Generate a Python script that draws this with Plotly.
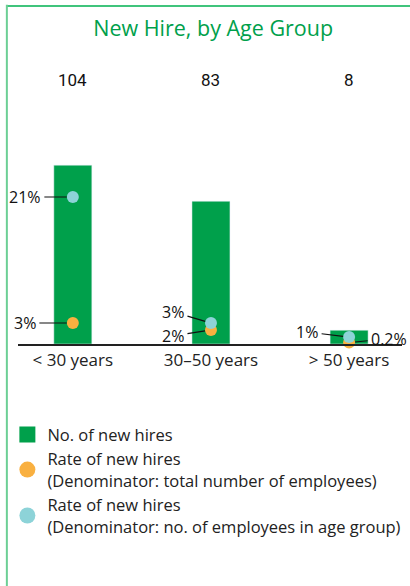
import plotly.graph_objects as go

categories = ["< 30 years", "30–50 years", "> 50 years"]
new_hires = [104, 83, 8]
rate_total = [3, 2, 0.2]          # % of total employees
rate_group = [21, 3, 1]           # % of employees in age group
rate_total_labels = ["3%", "2%", "0.2%"]
rate_group_labels = ["21%", "3%", "1%"]

GREEN = "#00A04B"
ORANGE = "#F9B040"
TEAL = "#8DD3D8"
FONT = "Open Sans"

fig = go.Figure()

fig.add_trace(go.Bar(x=categories, y=new_hires, marker_color=GREEN, width=0.275,
                     showlegend=False, hoverinfo="skip"))
fig.add_trace(go.Scatter(x=categories, y=rate_total, yaxis="y2", mode="markers",
                         marker=dict(color=ORANGE, size=12), showlegend=False, cliponaxis=False))
fig.add_trace(go.Scatter(x=categories, y=rate_group, yaxis="y2", mode="markers",
                         marker=dict(color=TEAL, size=12), showlegend=False, cliponaxis=False))

# legend-only entries
fig.add_trace(go.Scatter(x=[None], y=[None], mode="markers", name="No. of new hires",
                         marker=dict(symbol="square", color=GREEN, size=16)))
fig.add_trace(go.Scatter(x=[None], y=[None], mode="markers",
                         name="Rate of new hires<br>(Denominator: total number of employees)",
                         marker=dict(symbol="circle", color=ORANGE, size=17)))
fig.add_trace(go.Scatter(x=[None], y=[None], mode="markers",
                         name="Rate of new hires<br>(Denominator: no. of employees in age group)",
                         marker=dict(symbol="circle", color=TEAL, size=17)))

annotations = []
# count labels above the chart
for c, v in zip(categories, new_hires):
    annotations.append(dict(x=c, y=1.0, xref="x", yref="paper", yanchor="middle",
                            text=str(v), showarrow=False, yshift=20,
                            font=dict(family="Roboto", size=17, color="#111111")))

lead = dict(showarrow=True, arrowhead=0, arrowwidth=1.2, arrowcolor="#111111",
            standoff=6, borderpad=3, font=dict(family=FONT, size=16, color="#111111"),
            xref="x", yref="y2")
group_offsets = [(-48, 0), (-38, -11), (-42, -5)]
total_offsets = [(-48, 0), (-38, 6), (40, -4)]
for c, v, t, (ax, ay) in zip(categories, rate_group, rate_group_labels, group_offsets):
    annotations.append(dict(x=c, y=v, text=t, ax=ax, ay=ay, **lead))
for c, v, t, (ax, ay) in zip(categories, rate_total, rate_total_labels, total_offsets):
    annotations.append(dict(x=c, y=v, text=t, ax=ax, ay=ay, **lead))

fig.update_layout(
    width=410, height=586,
    margin=dict(l=17, r=8, t=100, b=242),
    paper_bgcolor="white", plot_bgcolor="white",
    title=dict(text="New Hire, by Age Group", x=0.52, xanchor="center", y=0.952, yanchor="middle",
               font=dict(family=FONT, size=21.5, color=GREEN)),
    xaxis=dict(type="category", range=[-0.397, 2.383], showgrid=False, zeroline=False,
               showline=True, linecolor="#222222", linewidth=1.5, ticks="",
               tickfont=dict(family=FONT, size=17, color="#222222")),
    yaxis=dict(range=[0, 141.9], visible=False, showgrid=False, zeroline=False),
    yaxis2=dict(range=[0, 34.86], overlaying="y", visible=False, showgrid=False, zeroline=False),
    legend=dict(x=-0.025, xanchor="left", y=-0.3, yanchor="top", orientation="v",
                font=dict(family=FONT, size=16.5, color="#222222"), itemsizing="trace",
                tracegroupgap=0, bgcolor="rgba(0,0,0,0)"),
    annotations=annotations,
    shapes=[
        dict(type="line", xref="paper", yref="paper", x0=-0.03, x1=1.05, y0=1.385, y1=1.385,
             line=dict(color="#00B050", width=1.5)),
        dict(type="line", xref="paper", yref="paper", x0=-0.029, x1=-0.029, y0=1.39, y1=-1.2,
             line=dict(color="#6CCF95", width=2)),
    ],
)

fig.write_html("out.html")
